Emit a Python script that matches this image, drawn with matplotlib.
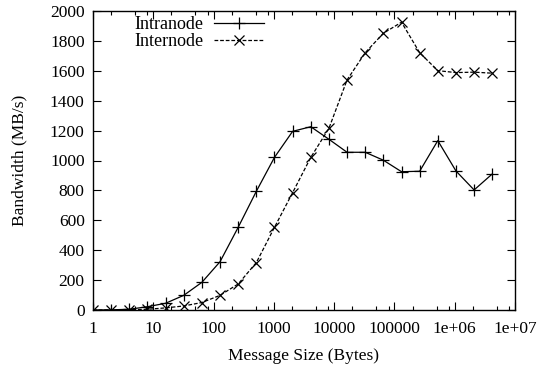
import matplotlib
matplotlib.use("Agg")
import matplotlib.pyplot as plt
from matplotlib.ticker import FixedLocator, NullFormatter
import numpy as np

msg_sizes = [1, 2, 4, 8, 16, 32, 64, 128, 256, 512, 1024, 2048, 4096, 8192,
             16384, 32768, 65536, 131072, 262144, 524288, 1048576, 2097152, 4194304]
intranode = [0, 1, 5, 22, 45, 98, 185, 323, 553, 794, 1021, 1195, 1226, 1142,
             1055, 1055, 1002, 925, 928, 1133, 930, 803, 910]
internode = [0, 0, 1, 5, 14, 27, 50, 98, 174, 317, 553, 785, 1021, 1215,
             1539, 1721, 1851, 1925, 1721, 1601, 1588, 1591, 1584]

xtick_vals = [1, 10, 100, 1000, 10000, 100000, 1e6, 1e7]
xtick_labels = ["1", "10", "100", "1000", "10000", "100000", "1e+06", "1e+07"]
ytick_vals = list(range(0, 2001, 200))

plt.rcParams['font.family'] = ['Liberation Serif', 'DejaVu Serif']
plt.rcParams['font.size'] = 12.5

fig = plt.figure(figsize=(5.42, 3.67), dpi=100)
ax = fig.add_axes([93/542, 1-310/367, (515-93)/542, (310-11)/367])

ax.plot(msg_sizes, intranode, color='black', lw=0.9, marker='+', ms=8.5, mew=0.9,
        label='Intranode')
ax.plot(msg_sizes, internode, color='black', lw=0.9, ls=(0, (3, 1.5)), marker='x',
        ms=7.5, mew=0.9, label='Internode')

ax.set_xscale('log')
ax.set_xlim(1, 1e7)
ax.set_ylim(0, 2000)
ax.set_xticks(xtick_vals)
ax.set_xticklabels(xtick_labels)
minors = [m * 10**k for k in range(0, 7) for m in (2, 5, 8)]
ax.xaxis.set_minor_locator(FixedLocator(minors))
ax.xaxis.set_minor_formatter(NullFormatter())
ax.set_yticks(ytick_vals)

ax.tick_params(which='both', direction='in', top=True, right=True, width=0.8,
               labelsize=12.5)
ax.tick_params(axis='x', pad=8)
ax.tick_params(axis='y', pad=6)
ax.tick_params(which='major', length=6)
ax.tick_params(which='minor', length=3)
for s in ax.spines.values():
    s.set_linewidth(1.0)

ax.set_xlabel('Message Size (Bytes)', fontsize=12.5, labelpad=8)
ax.set_ylabel('Bandwidth (MB/s)', fontsize=12.5, labelpad=16)

leg = ax.legend(loc='upper left', bbox_to_anchor=(0.067, 1.025), markerfirst=False,
                frameon=False, fontsize=13, handlelength=2.8, handletextpad=0.6,
                labelspacing=0.0, borderpad=0.2)

fig.savefig('out.png', dpi=100)
